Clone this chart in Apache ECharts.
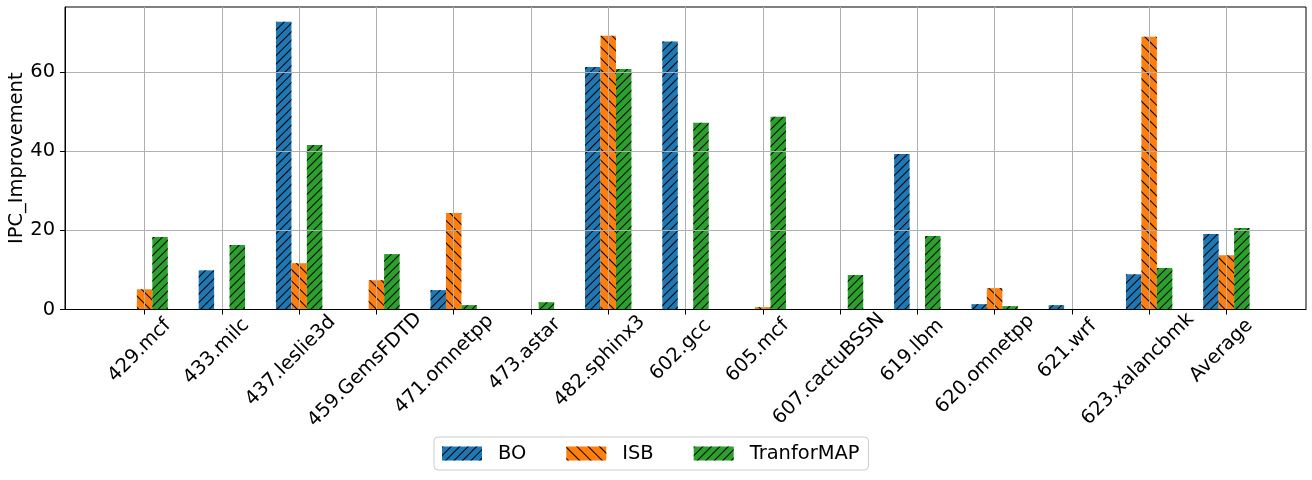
<!DOCTYPE html>
<html><head><meta charset="utf-8">
<script src="https://cdn.jsdelivr.net/npm/echarts@6/dist/echarts.min.js"></script>
<style>html,body{margin:0;padding:0;background:#fff}#c{width:1312px;height:480px}</style>
</head><body><div id="c"></div>
<script>
const categories = ['429.mcf','433.milc','437.leslie3d','459.GemsFDTD','471.omnetpp','473.astar','482.sphinx3','602.gcc','605.mcf','607.cactuBSSN','619.lbm','620.omnetpp','621.wrf','623.xalancbmk','Average'];
const seriesNames = ['BO','ISB','TranforMAP'];
const boValues  = [0, 9.9, 72.7, 0, 4.9, 0, 61.3, 67.7, 0, 0, 39.3, 1.35, 1.1, 8.9, 19.1];
const isbValues = [5.1, 0, 11.7, 7.4, 24.4, 0, 69.2, 0, 0.6, 0, 0, 5.4, 0, 68.9, 13.7];
const tmValues  = [18.3, 16.3, 41.6, 14.0, 1.1, 1.85, 60.8, 47.2, 48.7, 8.7, 18.6, 0.85, 0, 10.5, 20.6];
const yTickValues = [0, 20, 40, 60];
const yTitle = 'IPC_Improvement';

const FONT = 'DejaVu Sans';
const FS = 19.44;
const colors = ['#1f77b4', '#ff7f0e', '#2ca02c'];

const xTickValues = categories.map((c, i) => i);

// per-label padding so rotated labels are centred on their tick (matplotlib style)
const ctx = document.createElement('canvas').getContext('2d');
ctx.font = FS + 'px "' + FONT + '"';
const LH = 1.164 * FS;
const rich = {};
categories.forEach((c, i) => {
  const w = ctx.measureText(c).width;
  rich['l' + i] = {
    fontSize: FS, fontFamily: FONT, color: '#000', lineHeight: LH,
    padding: [Math.max(0, 0.25 * (w + LH) - LH / 2), 0.5 * (w + LH), 0, 0]
  };
});

const hatchFwd = { symbol: 'rect', symbolSize: 1, dashArrayX: [1, 0], dashArrayY: [1, 5], rotation: -Math.PI / 4, color: '#000' };
const hatchBack = { symbol: 'rect', symbolSize: 1, dashArrayX: [1, 0], dashArrayY: [1, 7], rotation: Math.PI / 4, color: '#000' };

const valueSets = [boValues, isbValues, tmValues];
const hatches = [hatchFwd, hatchBack, hatchFwd];

const chart = echarts.init(document.getElementById('c'), null, { renderer: 'canvas' });
chart.setOption({
  animation: false,
  backgroundColor: '#fff',
  grid: { left: 65, right: 6, top: 7, bottom: 170.5, show: true, borderColor: '#000', borderWidth: 1, containLabel: false, outerBoundsMode: 'none' },
  xAxis: {
    type: 'value', min: -1.03, max: 15.03, z: 5,
    axisLine: { show: true, onZero: false, lineStyle: { color: '#000', width: 1 } },
    axisTick: { show: true, inside: false, length: 5, lineStyle: { color: '#000', width: 1 }, customValues: xTickValues },
    axisLabel: {
      customValues: xTickValues, rotate: 45, align: 'center', verticalAlign: 'top', margin: 10,
      fontSize: FS, fontFamily: FONT, color: '#000',
      formatter: v => { const i = Math.round(v); return '{l' + i + '|' + categories[i] + '}'; },
      rich: rich
    },
    splitLine: { show: true, lineStyle: { color: '#b0b0b0', width: 1 } }
  },
  yAxis: {
    type: 'value', min: 0, max: 76.45, z: 5,
    name: yTitle, nameLocation: 'middle', nameGap: 39, nameMoveOverlap: false,
    nameTextStyle: { fontSize: FS, fontFamily: FONT, color: '#000' },
    axisLine: { show: true, onZero: false, lineStyle: { color: '#000', width: 1 } },
    axisTick: { show: true, inside: false, length: 5, lineStyle: { color: '#000', width: 1 }, customValues: yTickValues },
    axisLabel: { customValues: yTickValues, margin: 10, fontSize: FS, fontFamily: FONT, color: '#000' },
    splitLine: { show: true, lineStyle: { color: '#b0b0b0', width: 1 } }
  },
  legend: {
    left: 434, top: 437, orient: 'horizontal', icon: 'rect',
    itemWidth: 40, itemHeight: 14, itemGap: 40,
    padding: [7, 9, 7, 8], borderColor: '#cccccc', borderWidth: 1, borderRadius: 4, backgroundColor: '#fff',
    textStyle: { fontSize: FS, fontFamily: FONT, color: '#000', padding: [0, 0, 0, 11] },
    data: seriesNames
  },
  series: seriesNames.map((n, k) => ({
    name: n, type: 'bar', barWidth: '20%', barGap: '0%',
    data: valueSets[k].map((v, i) => [i, v]),
    itemStyle: { color: colors[k], decal: hatches[k] }
  }))
});
</script></body></html>
